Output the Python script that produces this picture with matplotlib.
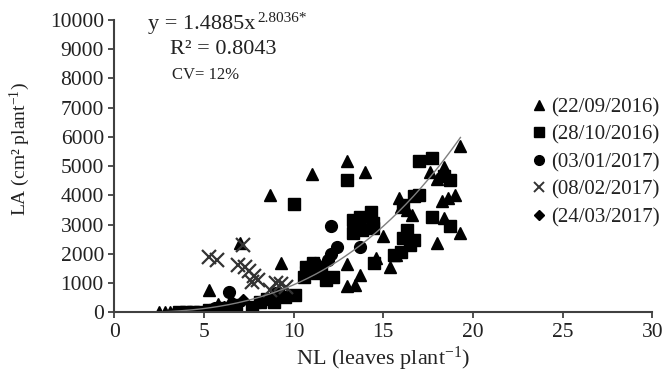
import numpy as np
import matplotlib
matplotlib.use("Agg")
from matplotlib import pyplot as plt

plt.rcParams['font.family'] = ['Liberation Serif', 'DejaVu Serif']
plt.rcParams['mathtext.default'] = 'regular'

# values
tri_x = [2.5, 2.8, 3.1, 5.3, 7.0, 9.3, 8.7, 11.0, 13.0, 14.0, 13.0, 13.7, 13.0, 13.4,
         19.3, 17.6, 18.4, 18.0, 15.9, 16.0, 16.6, 16.3, 19.0, 18.6, 18.3, 18.4,
         19.3, 18.0, 15.0, 14.6, 15.4, 15.7, 5.8, 6.5]
tri_y = [0, 20, 30, 770, 2390, 1690, 4020, 4730, 5170, 4790, 1660, 1290, 890, 940,
         5700, 4790, 4990, 4560, 3910, 3620, 3340, 3510, 4030, 3910, 3800, 3230,
         2710, 2370, 2620, 1860, 1570, 1970, 300, 450]

sq_x = [13.0, 10.0, 13.3, 13.7, 14.3, 13.3, 13.8, 14.4, 14.4, 10.7, 11.1, 11.5,
        10.6, 11.3, 11.8, 12.2, 10.1, 9.5, 9.1, 17.0, 17.7, 18.7, 18.4, 16.7, 17.0,
        17.7, 18.7, 16.3, 16.7, 16.1, 16.0, 15.6, 14.5, 16.5, 16.1,
        3.6, 4.0, 4.4, 4.8, 5.3, 5.6, 6.0, 6.6, 6.8, 7.7, 8.1, 8.9, 8.5]
sq_y = [4540, 3710, 3170, 3280, 3450, 2710, 2830, 3060, 2880, 1570, 1690, 1570,
        1230, 1340, 1110, 1230, 600, 540, 600, 5170, 5280, 4540, 4650, 3970, 4030,
        3280, 2940, 2830, 2480, 2540, 2080, 1970, 1690, 2310, 3680,
        0, 0, 10, 20, 80, 100, 150, 150, 250, 200, 370, 370, 450]

circ_x = [12.1, 12.4, 12.1, 11.9, 13.7, 10.7, 11.2, 6.4, 9.0, 8.1, 5.6, 4.2]
circ_y = [2960, 2250, 2000, 1800, 2230, 1570, 1680, 700, 650, 350, 150, 20]

cross_x = [5.3, 5.7, 7.2, 6.9, 7.3, 7.5, 7.8, 8.0, 7.7, 9.0, 9.3, 9.6, 8.7]
cross_y = [1880, 1780, 2300, 1620, 1560, 1420, 1250, 1100, 1050, 1000, 980, 880, 780]

dia_x = [3.4, 3.8, 4.3, 5.0, 5.5, 6.1, 6.7, 7.2]
dia_y = [0, 10, 30, 60, 120, 200, 300, 420]

dates = ['(22/09/2016)', '(28/10/2016)', '(03/01/2017)', '(08/02/2017)', '(24/03/2017)']
fit_a, fit_b = 1.4885, 2.8036

fig = plt.figure(figsize=(6.65, 3.76), dpi=100)
ax = fig.add_axes([0.1719, 0.1689, 0.809, 0.778])

ax.plot(tri_x, tri_y, ls='none', marker='^', ms=8.5, color='black')
ax.plot(sq_x, sq_y, ls='none', marker='s', ms=8, color='black')
ax.plot(circ_x, circ_y, ls='none', marker='o', ms=8.5, color='black')
ax.plot(cross_x, cross_y, ls='none', marker='x', ms=10, mew=1.6, color='#333333')
ax.plot(dia_x, dia_y, ls='none', marker='D', ms=6, color='black')

all_x = tri_x + sq_x + circ_x + cross_x + dia_x
xs = np.linspace(min(all_x), max(all_x), 200)
ax.plot(xs, fit_a * xs ** fit_b, color='#7f7f7f', lw=1)

ax.set_xlim(0, 30)
ax.set_ylim(0, 10000)
ax.set_xticks(range(0, 31, 5))
ax.set_yticks(range(0, 10001, 1000))
for s in ['top', 'right']:
    ax.spines[s].set_visible(False)
for s in ['left', 'bottom']:
    ax.spines[s].set_color('#404040')
    ax.spines[s].set_linewidth(1.5)
ax.tick_params(direction='out', length=4, width=1.3, color='#404040',
               labelsize=15.5, labelcolor='#222222')

ax.set_xlabel('NL (leaves plant$^{-1}$)', fontsize=16, color='#222222', labelpad=2)
ax.set_ylabel('LA (cm² plant$^{-1}$)', fontsize=14, color='#222222')
ax.yaxis.set_label_coords(-0.153, 0.56)

# equation, R² and CV placed as in the source figure
fig.text(148 / 665, 1 - 25 / 376, 'y = 1.4885x', fontsize=16,
         va='center', ha='left', color='#222222')
fig.text(257 / 665, 1 - 18 / 376, '2.8036*', fontsize=11,
         va='center', ha='left', color='#222222')
fig.text(170 / 665, 1 - 49 / 376, 'R² = 0.8043', fontsize=16,
         va='center', ha='left', color='#222222')
fig.text(172 / 665, 1 - 75 / 376, 'CV= 12%', fontsize=12,
         va='center', ha='left', color='#222222')

handles = [
    plt.Line2D([], [], ls='none', marker='^', ms=7, color='black'),
    plt.Line2D([], [], ls='none', marker='s', ms=7, color='black'),
    plt.Line2D([], [], ls='none', marker='o', ms=7, color='black'),
    plt.Line2D([], [], ls='none', marker='x', ms=7, mew=1.4, color='#333333'),
    plt.Line2D([], [], ls='none', marker='D', ms=5, color='black'),
]
fig.legend(handles, dates, loc='upper left', bbox_to_anchor=(522 / 665, 1 - 87 / 376),
           frameon=False, fontsize=15, handlelength=0.6, handletextpad=0.3,
           labelspacing=0.38, borderpad=0, labelcolor='#222222')

fig.savefig('out.png', dpi=100)
